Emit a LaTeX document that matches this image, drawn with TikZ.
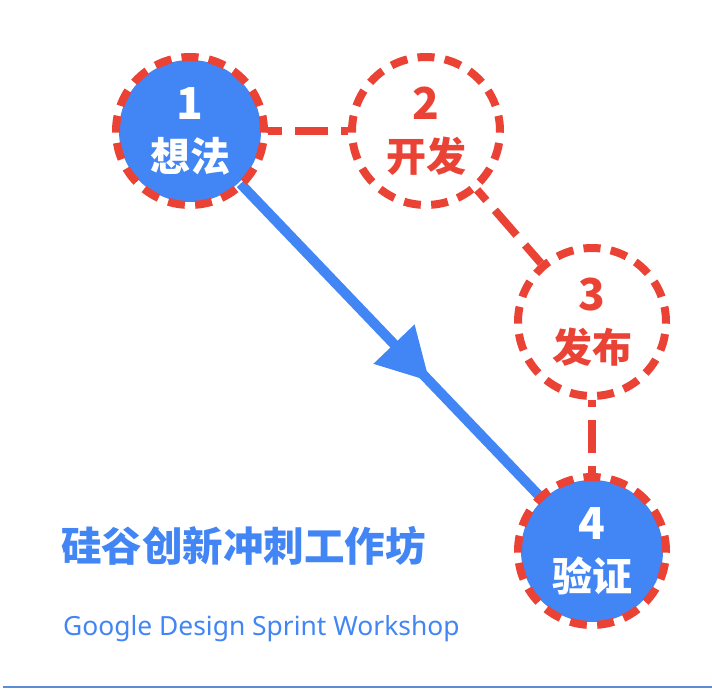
\documentclass[tikz,border=0pt]{standalone}
\usepackage{fontspec}
\setmainfont{Noto Sans}
\newfontfamily\cjk{Noto Sans CJK SC}
\usetikzlibrary{arrows.meta,decorations.markings,backgrounds}
\definecolor{gblue}{HTML}{4285F4}
\definecolor{gred}{HTML}{EA4335}
\definecolor{ruleblue}{HTML}{5B8DD6}
\newcommand\bignum[1]{{\fontsize{44}{52}\selectfont#1}}
\tikzset{
	stage/.style={circle, minimum size=148pt, inner sep=0pt, draw=gred, line width=8pt,
		dash pattern=on 17pt off 10.35pt, dash phase=1.66pt, align=center,
		font=\cjk\bfseries\fontsize{40}{52}\selectfont},
	done/.style={stage, text=white,
		path picture={\fill[gblue] (path picture bounding box.center) circle (71pt);}},
	todo/.style={stage, text=gred},
	link/.style={draw=gred, line width=8pt, dash pattern=on 33pt off 13pt},
	flow/.style={color=gblue, line width=10pt, postaction={decorate},
		decoration={markings, mark=at position 0.63 with {\arrow{Triangle[length=51pt,width=57pt,line width=0pt]}}}}
}
\begin{document}
\begin{tikzpicture}[x=1pt, y=1pt]
	\useasboundingbox (0,0) rectangle (712,689);
	
	\node[done] (S1) at (190,558) {\bignum{1}\\想法};
	\node[todo, right of=S1, node distance=236pt] (S2) {\bignum{2}\\开发};
	\node[todo] (S3) at (592,367) {\bignum{3}\\发布};
	\node[done, below of=S3, node distance=229pt] (S4) {\bignum{4}\\验证};
	
	\draw[link, dash phase=19pt] (S1) -- (S2);
	\draw[link, dash phase=19pt] (S2) -- (S3);
	\draw[link, dash phase=26pt] (S3) -- (S4);
	
	\begin{scope}[on background layer]
		\draw[flow, shorten <=-5pt, shorten >=-5pt] (S1) -- (S4);
	\end{scope}
	
	\node[anchor=base west, inner sep=0pt, text=gblue, font=\cjk\bfseries\fontsize{40.5}{48}\selectfont] (T1) at (61,128) {硅谷创新冲刺工作坊};
	\node[anchor=base west, inner sep=0pt, text=gblue, font=\fontsize{26.4}{30}\selectfont] (T2) at (63,54) {Google Design Sprint Workshop};
	
	\coordinate (R1) at (3,2);
	\coordinate (R2) at (712,2);
	\draw[draw=ruleblue, line width=2.5pt] (R1) -- (R2);
	
\end{tikzpicture}
\end{document}
